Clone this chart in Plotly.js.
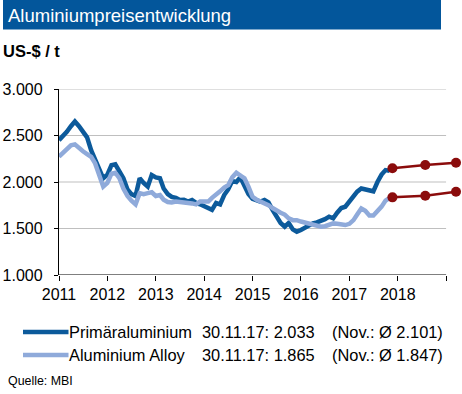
<!DOCTYPE html>
<html>
<head>
<meta charset="utf-8">
<script src="https://cdn.plot.ly/plotly-3.0.1.min.js"></script>
<style>
html,body{margin:0;padding:0;background:#fff;}
#chart{width:462px;height:394px;}
</style>
</head>
<body>
<div id="chart"></div>
<script>
// ---- data ----
var startYear = 2011, startMonth = 1, nMonths = 83; // Jan 2011 .. Nov 2017
var primaer = [2450,2490,2540,2600,2650,2600,2540,2480,2340,2240,2110,2040,
               2080,2180,2190,2120,2040,1920,1870,1850,2040,1990,1950,2075,
               2050,2040,1930,1870,1840,1830,1806,1810,1790,1806,1775,1760,
               1740,1717,1700,1775,1760,1860,1920,2010,2000,2050,1960,1870,
               1820,1810,1790,1806,1780,1700,1620,1560,1520,1560,1490,1466,
               1484,1510,1537,1555,1565,1580,1600,1627,1610,1670,1720,1734,
               1790,1840,1896,1930,1920,1900,1900,2000,2080,2128,2120];
var alloy   = [2272,2310,2360,2395,2405,2360,2330,2300,2270,2200,2057,1950,
               1990,2090,2100,2040,1930,1850,1800,1760,1880,1870,1880,1890,
               1850,1860,1810,1785,1780,1790,1785,1775,1775,1770,1760,1790,
               1790,1790,1830,1860,1900,1940,1965,2050,2100,2070,2040,1950,
               1840,1810,1790,1780,1750,1720,1690,1670,1650,1610,1590,1590,
               1575,1565,1555,1545,1530,1520,1525,1545,1555,1550,1540,1537,
               1550,1590,1650,1715,1690,1640,1640,1680,1735,1800,1830];
var forecastDates = ['2017-11-22','2018-07-28','2019-03-17'];
var forecastPrimaer = [2147,2183,2207];
var forecastAlloy   = [1835,1853,1895];
var yearTicks  = ['2011-01-01','2012-01-01','2013-01-01','2014-01-01','2015-01-01','2016-01-01','2017-01-01','2018-01-01','2019-01-01'];
var yearLabels = ['2011','2012','2013','2014','2015','2016','2017','2018',''];
var yTickVals   = [1000,1500,2000,2500,3000];
var yTickLabels = ['1.000','1.500','2.000','2.500','3.000'];
var legendNames  = ['Primäraluminium','Aluminium Alloy'];
var legendLast   = ['30.11.17: 2.033','30.11.17: 1.865'];
var legendAvg    = ['(Nov.: Ø 2.101)','(Nov.: Ø 1.847)'];

// month dates
var dates = [];
for (var i = 0; i < nMonths; i++) {
  var m = startMonth - 1 + i;
  var y = startYear + Math.floor(m / 12);
  var mm = (m % 12) + 1;
  dates.push(y + '-' + (mm < 10 ? '0' + mm : mm) + '-01');
}

var W = 462, H = 394, ML = 59, MR = 4, MT = 89, MB = 119;
var PW = W - ML - MR, PH = H - MT - MB;
function px(x){ return (x - ML) / PW; }
function py(y){ return (H - MB - y) / PH; }

var FONT = 'Liberation Sans, Arial, sans-serif';
var cDark = '#0C5A9B', cLight = '#8FAADA', cRed = '#8B0C0C';

var traces = [
  {x: dates, y: primaer, type: 'scatter', mode: 'lines', line: {color: cDark, width: 4.5}, hoverinfo: 'skip'},
  {x: dates, y: alloy, type: 'scatter', mode: 'lines', line: {color: cLight, width: 4.5}, hoverinfo: 'skip'},
  {x: forecastDates, y: forecastPrimaer, type: 'scatter', mode: 'lines+markers', cliponaxis: false,
   line: {color: cRed, width: 2.5}, marker: {color: cRed, size: 10}, hoverinfo: 'skip'},
  {x: forecastDates, y: forecastAlloy, type: 'scatter', mode: 'lines+markers', cliponaxis: false,
   line: {color: cRed, width: 2.5}, marker: {color: cRed, size: 10}, hoverinfo: 'skip'}
];

var shapes = [];
// title bar
shapes.push({type: 'rect', xref: 'paper', yref: 'paper', x0: px(3), x1: px(441), y0: py(29.5), y1: py(0),
             fillcolor: '#03569B', line: {width: 0}, layer: 'below'});
// gridlines (end at 2019)
[1500,2000,2500,3000].forEach(function(v){
  shapes.push({type: 'line', xref: 'x', yref: 'y', x0: yearTicks[0], x1: yearTicks[yearTicks.length-1], y0: v, y1: v,
               line: {color: '#BFBFBF', width: 1}, layer: 'below'});
});
// x axis line
shapes.push({type: 'line', xref: 'x', yref: 'y', x0: yearTicks[0], x1: yearTicks[yearTicks.length-1], y0: 1000, y1: 1000,
             line: {color: '#000', width: 1.2}, layer: 'above'});
// legend lines
[cDark, cLight].forEach(function(c, k){
  var yy = [332, 355][k];
  shapes.push({type: 'line', xref: 'paper', yref: 'paper', x0: px(23), x1: px(68.5), y0: py(yy), y1: py(yy),
               line: {color: c, width: 4.5}});
});

var annotations = [];
function ann(text, x, y, size, opts){
  var a = {text: text, xref: 'paper', yref: 'paper', x: px(x), y: py(y), xanchor: 'left', yanchor: 'middle',
           showarrow: false, font: {family: FONT, size: size, color: '#000'}, borderpad: 0};
  for (var k in opts) a[k] = opts[k];
  return a;
}
annotations.push(ann('Aluminiumpreisentwicklung', 7, 15.5, 18.5, {font: {family: FONT, size: 18.5, color: '#fff'}}));
annotations.push(ann('<b>US-$ / t</b>', 2, 51.5, 16.5, {}));
for (var r = 0; r < 2; r++) {
  var yy = [332, 355][r];
  annotations.push(ann(legendNames[r], 68, yy, 16.4, {}));
  annotations.push(ann(legendLast[r], 201, yy, 16.4, {}));
  annotations.push(ann(legendAvg[r], 331, yy, 16.4, {}));
}
annotations.push(ann('Quelle: MBI', 7, 381, 12.4, {}));

var layout = {
  width: W, height: H,
  margin: {l: ML, r: MR, t: MT, b: MB, pad: 0},
  paper_bgcolor: '#fff', plot_bgcolor: '#fff',
  showlegend: false,
  font: {family: FONT, size: 16, color: '#000'},
  xaxis: {
    type: 'date', range: ['2011-01-01', '2019-04-01'],
    tickmode: 'array', tickvals: yearTicks, ticktext: yearLabels,
    ticks: 'outside', ticklen: 5, tickcolor: '#000', tickwidth: 1,
    showgrid: false, showline: false, zeroline: false,
    tickfont: {family: FONT, size: 16, color: '#000'}
  },
  yaxis: {
    range: [1000, 3000],
    tickmode: 'array', tickvals: yTickVals, ticktext: yTickLabels,
    ticks: 'outside', ticklen: 4, tickcolor: '#000', tickwidth: 1,
    ticklabelstandoff: 8,
    showgrid: false, showline: true, linecolor: '#000', linewidth: 1.2, zeroline: false,
    tickfont: {family: FONT, size: 16, color: '#000'}
  },
  shapes: shapes,
  annotations: annotations
};

Plotly.newPlot('chart', traces, layout, {staticPlot: true, displayModeBar: false});
</script>
</body>
</html>
